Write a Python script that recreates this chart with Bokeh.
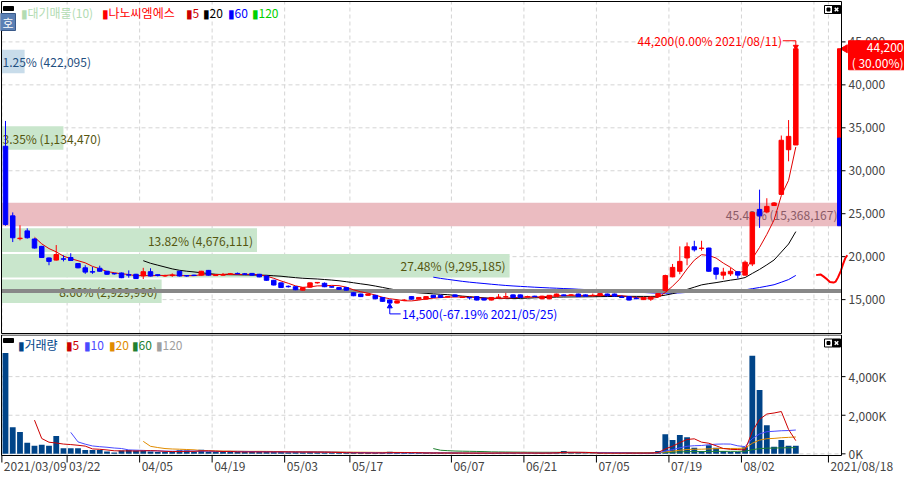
import numpy as np
import pandas as pd
from bokeh.plotting import figure
from bokeh.layouts import column
from bokeh.models import Range1d
from bokeh.core.properties import value
from bokeh.embed import file_html
from bokeh.resources import INLINE

FONT = "Noto Sans CJK KR"

# trading calendar
first_day = "2021-03-09"
last_day = "2021-08-11"
holidays = ["2021-05-05", "2021-05-19"]
future_days = 6

tick_dates = ["2021-03-09", "2021-03-22", "2021-04-05", "2021-04-19", "2021-05-03", "2021-05-17",
              "2021-06-07", "2021-06-21", "2021-07-05", "2021-07-19", "2021-08-02", "2021-08-16", "2021-08-18"]
tick_labels = ["2021/03/09", "03/22", "04/05", "04/19", "05/03", "05/17",
               "06/07", "06/21", "07/05", "07/19", "08/02", "", "2021/08/18"]

price_ticks = [15000, 20000, 25000, 30000, 35000, 40000, 45000]
volume_ticks = [0, 2000, 4000]
volume_tick_labels = ["0K", "2,000K", "4,000K"]

# daily candles (won)
opens = [32850, 24750, 22100, 23000, 22050, 21200, 19850, 19600, 19750, 19900,
         19200, 18700, 18250, 18650, 18300, 18050, 18100, 17900, 17950, 17750,
         18250, 17900, 17750, 17800, 18300, 17800, 17850, 17850, 18400, 17800,
         17850, 17950, 18050, 18000, 18050, 17950, 17750, 17250, 16950, 16550,
         16500, 16100, 16450, 16950, 16900, 16500, 16400, 16400, 15800, 15650,
         15500, 15500, 15250, 14950, 14600, 14900, 15350, 15050, 15050, 15500,
         15500, 15300, 15550, 15250, 15250, 15350, 15150, 14950, 15250, 15300,
         15550, 15550, 15300, 15400, 15100, 15100, 15350, 15550, 15500, 15650,
         15550, 15450, 15450, 15650, 15650, 15300, 15350, 15150, 15000, 15050,
         15350, 16050, 17650, 18300, 19850, 21150, 20950, 21000, 18700, 17850,
         18000, 18250, 17850, 19150, 25500, 25200, 25950, 27250, 32450, 33000]
highs = [35800, 25150, 23650, 23300, 22150, 21250, 19900, 21350, 20150, 20400,
         19250, 19000, 18800, 18950, 18350, 18100, 18150, 18400, 18000, 18700,
         18650, 17950, 17900, 18050, 18350, 17850, 17900, 18350, 18450, 17950,
         18100, 18100, 18150, 18100, 18100, 18000, 17800, 17300, 17000, 16650,
         16550, 16450, 17000, 17050, 17000, 16550, 16450, 16450, 15850, 15700,
         15700, 15550, 15300, 15000, 14900, 15050, 15400, 15300, 15350, 15550,
         15550, 15400, 15600, 15350, 15300, 15400, 15200, 15300, 15650, 15800,
         15600, 15600, 15450, 15450, 15450, 15500, 15700, 15600, 15650, 15700,
         15600, 15700, 15750, 15700, 15700, 15500, 15400, 15350, 15300, 15350,
         15750, 17900, 19150, 21200, 21650, 21850, 21850, 21050, 18750, 18700,
         18700, 18300, 19550, 25150, 27800, 26800, 26350, 34100, 35900, 44200]
lows = [23600, 21700, 21900, 22100, 20950, 19850, 19000, 19550, 19450, 19500,
        18650, 18000, 18000, 18250, 17900, 17900, 17500, 17550, 17400, 17400,
        17700, 17700, 17650, 17650, 17700, 17650, 17750, 17800, 17800, 17750,
        17800, 17900, 17950, 17900, 17800, 17600, 17200, 16650, 16350, 16400,
        16100, 16050, 16400, 16850, 16450, 16400, 16150, 16050, 15400, 15300,
        15450, 15050, 14750, 14500, 14550, 14850, 15000, 15000, 15000, 15200,
        15200, 15250, 15300, 15200, 15000, 14900, 14900, 14900, 15200, 15200,
        15200, 15200, 15250, 15300, 15050, 15050, 15300, 15400, 15450, 15300,
        15350, 15400, 15400, 15400, 15350, 15200, 14900, 15050, 14950, 14850,
        15300, 15950, 17600, 17950, 19000, 20600, 20700, 18250, 17350, 17350,
        17750, 17450, 17800, 18900, 23350, 25050, 25900, 27200, 31100, 33000]
closes = [23750, 22200, 22150, 22200, 21000, 19900, 19450, 20250, 19700, 19550,
          18700, 18200, 18200, 18300, 17950, 18000, 17550, 17850, 17450, 18250,
          17750, 17800, 17800, 17850, 17750, 17750, 17800, 18300, 17850, 17850,
          17900, 18000, 18000, 17950, 17850, 17650, 17250, 16700, 16400, 16500,
          16150, 16400, 16950, 17000, 16500, 16450, 16200, 16100, 15450, 15350,
          15650, 15100, 14800, 14600, 14850, 14950, 15050, 15250, 15350, 15250,
          15250, 15350, 15350, 15300, 15200, 14950, 14950, 15250, 15300, 15350,
          15250, 15250, 15350, 15350, 15400, 15500, 15650, 15450, 15550, 15350,
          15400, 15500, 15700, 15450, 15400, 15250, 14950, 15100, 15250, 15300,
          15700, 17800, 18750, 19450, 21150, 20800, 21000, 18300, 17950, 18200,
          18300, 17850, 19350, 25150, 24750, 25850, 26250, 33550, 34000, 44200]

# daily volume, thousands of shares
volumes = [5230, 1380, 1130, 570, 420, 470, 420, 930, 290, 290,
           290, 200, 200, 200, 120, 70, 170, 200, 170, 170,
           120, 100, 90, 110, 180, 170, 90, 215, 110, 100,
           95, 110, 100, 90, 100, 105, 110, 95, 100, 85,
           90, 85, 100, 80, 70, 60, 45, 45, 50, 45,
           40, 45, 60, 110, 55, 45, 45, 40, 40, 45,
           40, 35, 40, 35, 35, 40, 35, 40, 50, 55,
           40, 35, 35, 35, 40, 60, 100, 150, 50, 40,
           35, 35, 40, 35, 35, 35, 45, 35, 40, 50,
           150, 1010, 720, 980, 860, 320, 150, 440, 320, 150,
           100, 100, 340, 5080, 3310, 1480, 370, 720, 420, 420]

# pending supply (대기매물), 10 price bands from the period low to the period high
band_pct = [8.66, 27.48, 13.82, 45.43, 0, 0, 3.35, 0, 0, 1.25]
band_vol = [2929990, 9295185, 4676111, 15368167, 0, 0, 1134470, 0, 0, 422095]

ref_price = 16000
side_levels = [23600, 33800, 44200]

# drawn projection at the right edge
proj_x = [111.8, 112.4, 112.8, 113.3, 113.7, 114.2, 114.5, 114.8, 115.2, 115.5, 115.8, 116.1]
proj_y = [17850, 17935, 17705, 17364, 17056, 16987, 17100, 17560, 18325, 19093, 19781, 20160]

days = [d for d in pd.bdate_range(first_day, last_day) if d.strftime("%Y-%m-%d") not in holidays]
n = len(days)
days += list(pd.bdate_range(pd.Timestamp(last_day) + pd.Timedelta(days=1), periods=future_days))
day_index = {d.strftime("%Y-%m-%d"): i for i, d in enumerate(days)}

idx = np.arange(n)
o = np.array(opens, float)
h = np.array(highs, float)
l = np.array(lows, float)
c = np.array(closes, float)
v = np.array(volumes, float)
cs = pd.Series(c)
vs = pd.Series(v)

# geometry: the chart box spans canvas x 1..841, the price scale sits to its right
W = 904
X0, X1 = -0.55, 115.3
PX = 840 / (X1 - X0)
XS = X0 - 1 / PX
XE = XS + W / PX

UP = "#ff0000"
DN = "#0000ff"
GRID = "#d4d4d4"
AXIS_TXT = "#444444"
grid_x = [day_index[d] - 0.5 for d in tick_dates]


def txt(f, x, y, s, color, align="left", base="middle", size="12px", font=FONT, **kw):
    f.text(x=[x], y=[y], text=[s], text_align=align, text_baseline=base, text_color=color,
           text_font=value(font), text_font_size=size, **kw)


def panel(height, box_top, box_bot, canvas_top_px, canvas_bot_px, ticks, tick_text):
    upp = (box_top - box_bot) / (height - canvas_top_px - canvas_bot_px)
    y1 = box_top + canvas_top_px * upp
    y0 = box_bot - canvas_bot_px * upp
    f = figure(width=W, height=height, x_range=Range1d(XS, XE), y_range=Range1d(y0, y1),
               x_axis_location=None, y_axis_location=None, toolbar_location=None,
               output_backend="svg", min_border=0, background_fill_color="white",
               border_fill_color="white")
    f.outline_line_color = None
    f.xgrid.grid_line_color = None
    f.ygrid.grid_line_color = None
    # dashed grid inside the box
    f.segment(x0=grid_x, x1=grid_x, y0=box_bot, y1=box_top, line_color=GRID, line_dash="4 3")
    f.segment(x0=X0, x1=X1, y0=ticks, y1=ticks, line_color=GRID, line_dash="4 3")
    # price scale on the right
    f.segment(x0=X1, x1=X1 + 4 / PX, y0=ticks, y1=ticks, line_color="black")
    for t, s in zip(ticks, tick_text):
        txt(f, X1 + 7 / PX, t, s, AXIS_TXT)
    return f, upp


def box(f, top, bot):
    f.quad(left=X0, right=X1, bottom=bot, top=top, fill_color=None, line_color="black", line_width=1)


def legend(f, top, upp, items, y_px):
    f.quad(left=X0 + 2 / PX, right=X0 + 12 / PX, top=top - (y_px - 6) * upp,
           bottom=top - (y_px - 2) * upp, color="black")
    for off, s, col in items:
        txt(f, X0 + off / PX, top - y_px * upp, s, col)
    yc = top - 8 * upp
    f.scatter([X1 - 13 / PX], [yc], marker="square", size=8, fill_color="white", line_color="black")
    f.scatter([X1 - 13 / PX], [yc], marker="square", size=3, color="black")
    f.scatter([X1 - 5 / PX], [yc], marker="square", size=8, color="black")
    f.scatter([X1 - 5 / PX], [yc], marker="x", size=5, line_color="white", line_width=1.5)


# ---------------- price panel ----------------
P_TOP, P_BOT = 49702, 11055
p, wpx = panel(334, P_TOP, P_BOT, 1, 1, price_ticks, [f"{t:,}" for t in price_ticks])

# pending supply bands
edges = np.linspace(l.min(), h.max(), len(band_pct) + 1)
gap = 1 * wpx
top_band = int(np.argmax(band_pct))
cur_band = min(int(np.searchsorted(edges, c[-1], side="right")) - 1, len(band_pct) - 1)
for k, (pct, vol) in enumerate(zip(band_pct, band_vol)):
    if pct <= 0:
        continue
    right = X0 + pct / max(band_pct) * (X1 - X0)
    if k == top_band:
        fill, tcol = "#ebbcc1", "#8a5a66"
    elif k == cur_band:
        fill, tcol = "#c8dcea", "#1f4f80"
    else:
        fill, tcol = "#c9e6cc", "#55560f"
    p.quad(left=X0, right=right, bottom=edges[k] + gap, top=edges[k + 1] - gap,
           fill_color=fill, line_color=None)
    label = f"{pct:.2f}% ({vol:,})"
    mid = (edges[k] + edges[k + 1]) / 2
    if len(label) * 6.2 + 8 < (right - X0) * PX:
        txt(p, right - 4 / PX, mid, label, tcol, align="right")
    else:
        txt(p, X0 + 1 / PX, mid, label, tcol)

# moving averages and reference line
p.line(idx, cs.rolling(60).mean(), line_color="#0000ff", line_width=1)
p.line(idx, cs.rolling(20).mean(), line_color="black", line_width=1)
p.line([X0, X1], [ref_price, ref_price], line_color="#888888", line_width=4)
p.line(idx, cs.rolling(5).mean(), line_color="#e00000", line_width=1)

# candles
col = list(np.where(c >= o, UP, DN))
p.segment(x0=idx, y0=l, x1=idx, y1=h, line_color=col, line_width=1)
p.vbar(x=idx, width=0.62, bottom=np.minimum(o, c), top=np.maximum(o, c), fill_color=col, line_color=col)

# side bar and projection
p.quad(left=X1 - 0.55, right=X1, bottom=side_levels[1], top=side_levels[2], color=UP)
p.quad(left=X1 - 0.55, right=X1, bottom=side_levels[0], top=side_levels[1], color=DN)
p.line(proj_x, proj_y, line_color="#ff0000", line_width=2)

# high / low marks
last = c[-1]
hi_i = int(np.argmax(h))
hi = h[hi_i]
lo_i = int(np.argmin(l))
lo = l[lo_i]
p.line([hi_i - 1.8, hi_i, hi_i], [hi + 8 * wpx, hi + 8 * wpx, hi + 2 * wpx], line_color=UP)
p.scatter([hi_i], [hi + 2 * wpx], marker="inverted_triangle", size=5, color=UP)
txt(p, hi_i - 1.9, hi + 8 * wpx,
    f"{int(hi):,}({(hi / last - 1) * 100:.2f}% {days[hi_i].strftime('%Y/%m/%d')})", UP, align="right")
p.line([lo_i, lo_i, lo_i + 1.5], [lo - 3 * wpx, lo - 10 * wpx, lo - 10 * wpx], line_color=DN)
p.scatter([lo_i], [lo - 2.5 * wpx], marker="triangle", size=5, color=DN)
txt(p, lo_i + 1.7, lo - 10 * wpx,
    f"{int(lo):,}({(lo / last - 1) * 100:.2f}% {days[lo_i].strftime('%Y/%m/%d')})", DN)

# current price tag on the scale
chg = (c[-1] / c[-2] - 1) * 100
p.quad(left=X1 + 7 / PX, right=X1 + 64 / PX, top=last + 8 * wpx, bottom=last - 21 * wpx, color=UP)
p.scatter([X1 + 3.5 / PX], [last], marker="triangle", angle=np.pi / 2, size=8, color=UP)
txt(p, X1 + 62 / PX, last + 1 * wpx, f"{int(last):,}", "white", align="right")
txt(p, X1 + 62 / PX, last - 13.5 * wpx, f"(\u00a0{chg:.2f}%)", "white", align="right")

box(p, P_TOP, P_BOT)

# "호" button
p.quad(left=XS, right=X0 + 14 / PX, top=P_TOP - 12 * wpx, bottom=P_TOP - 29 * wpx,
       fill_color="#5b80b4", line_color="#3a5a8a")
txt(p, X0 + 6.5 / PX, P_TOP - 20.5 * wpx, "호", "white", align="center")

legend(p, P_TOP, wpx, [(19, "▮대기매물(10)", "#b2dcb2"), (100, "▮나노씨엠에스", "#ff0000"),
                       (184, "▮5", "#cc0000"), (201, "▮20", "black"), (226, "▮60", "#0000ff"),
                       (250, "▮120", "#00d000")], 11)

# ---------------- volume panel ----------------
V_TOP, V_BOT = 6157, -86
q, kpx = panel(139, V_TOP, V_BOT, 0.5, 18, volume_ticks, volume_tick_labels)

q.vbar(x=idx, width=0.8, bottom=0, top=v, fill_color="#004488", line_color=None)
q.line(idx, vs.rolling(60).mean(), line_color="#208030", line_width=1)
q.line(idx, vs.rolling(20).mean(), line_color="#e08c00", line_width=1)
q.line(idx, vs.rolling(10).mean(), line_color="#4a4aff", line_width=1)
q.line(idx, vs.rolling(5).mean(), line_color="#cc0000", line_width=1)

box(q, V_TOP, V_BOT)
legend(q, V_TOP, kpx, [(16, "▮거래량", "#004488"), (64, "▮5", "#cc0000"), (82, "▮10", "#4a4aff"),
                       (107, "▮20", "#e08c00"), (130, "▮60", "#208030"), (154, "▮120", "#a0a0a0")], 9.5)

# date scale: tick mark at the start of the day, label to its right
for pos, lab in zip(grid_x, tick_labels):
    if not lab:
        continue
    q.segment(x0=[pos], x1=[pos], y0=[V_BOT], y1=[V_BOT - 7 * kpx], line_color="black")
    txt(q, pos + 2 / PX, V_BOT - 1.5 * kpx, lab, AXIS_TXT, base="top")

layout = column(p, q, spacing=0)
open("out.html", "w").write(file_html(layout, INLINE))
